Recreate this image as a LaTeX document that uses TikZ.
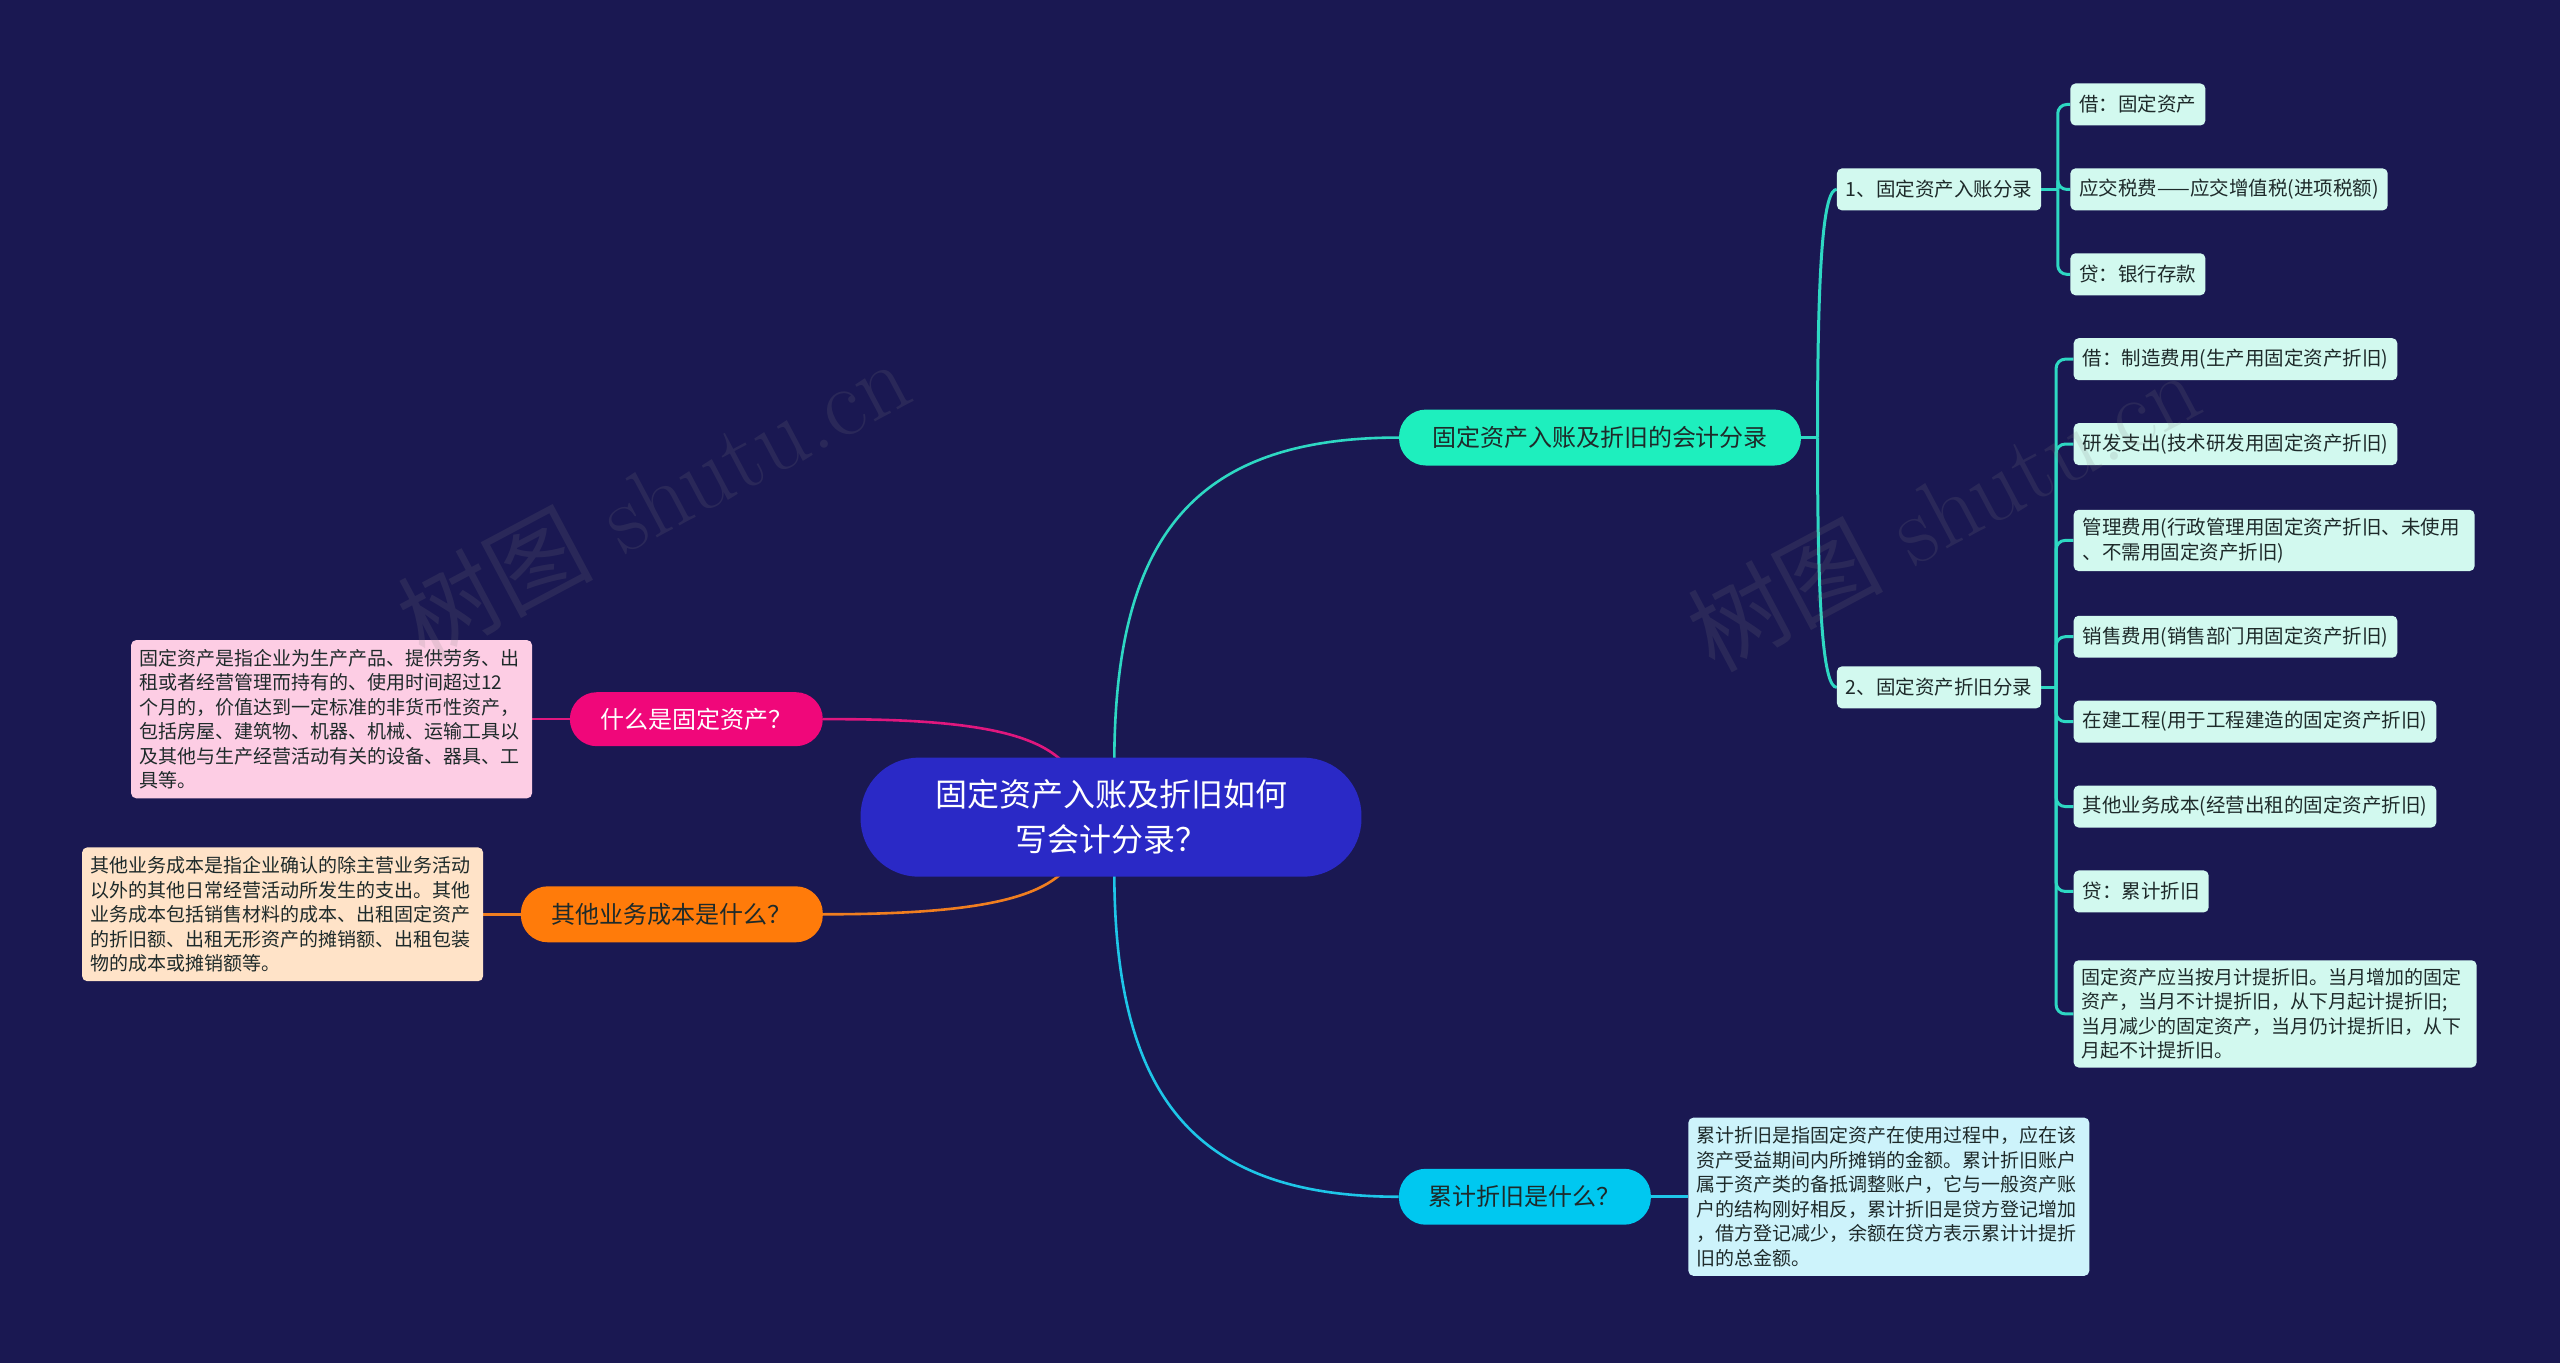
\documentclass[tikz,border=0pt]{standalone}
\usepackage{fontspec}
\newfontfamily\cjk{Noto Sans CJK SC}
\usetikzlibrary{backgrounds,calc}

\definecolor{bgnavy}{HTML}{1A1852}
\definecolor{rootblue}{HTML}{2A29C6}
\definecolor{mint}{HTML}{1EEFBE}
\definecolor{mintline}{HTML}{2ED8C3}
\definecolor{mintleaf}{HTML}{D2F9EF}
\definecolor{cyanpill}{HTML}{00C8F0}
\definecolor{cyanline}{HTML}{1EC6E8}
\definecolor{cyanleaf}{HTML}{CDF3FB}
\definecolor{pinkpill}{HTML}{F0077A}
\definecolor{pinkline}{HTML}{E0177E}
\definecolor{pinkleaf}{HTML}{FDCDE4}
\definecolor{orangepill}{HTML}{FF7B0A}
\definecolor{orangeline}{HTML}{F07E20}
\definecolor{orangeleaf}{HTML}{FFE3C8}
\definecolor{inkdark}{HTML}{1E2A2A}

\tikzset{
  pill/.style={rectangle, rounded corners=27pt, minimum height=56pt, inner xsep=4pt, font=\cjk\fontsize{24}{28}\selectfont},
  leafbox/.style={rectangle, rounded corners=5pt, fill=mintleaf, text=inkdark, minimum height=42pt, inner xsep=9pt, inner ysep=8pt, align=left, font=\cjk\fontsize{19.5}{25}\selectfont},
  descbox/.style={rectangle, rounded corners=5pt, text=inkdark, inner xsep=8pt, inner ysep=9pt, text width=385pt, align=left, font=\cjk\fontsize{19}{24.5}\selectfont},
  link/.style={line width=2.6pt},
  sublink/.style={line width=3pt, mintline, rounded corners=9pt},
  watermark/.style={rotate=28, text=gray, text opacity=0.16, font=\fontsize{98}{98}\selectfont},
}

\begin{document}
\begin{tikzpicture}[x=1.633pt, y=-1.633pt]
  \begin{scope}[on background layer]
    \fill[bgnavy] (0,0) rectangle (1568,835);
  \end{scope}
  \useasboundingbox (0,0) rectangle (1568,835);

  % Nodes
  \node (root) at (680.5,500.5) [rectangle, rounded corners=58pt, fill=rootblue, text=white, minimum width=501pt, minimum height=119pt, align=center, font=\cjk\fontsize{32}{45}\selectfont] {固定资产入账及折旧如何\\写会计分录？};
  \node (entrybr) at (980,268) [pill, fill=mint, text=inkdark, minimum width=402pt] {固定资产入账及折旧的会计分录};
  \node (deprbr) at (934,733) [pill, fill=cyanpill, text=inkdark, minimum width=252pt] {累计折旧是什么？};
  \node (fabr) at (426.5,440.5) [pill, fill=pinkpill, text=white, minimum width=253pt, minimum height=54pt] {什么是固定资产？};
  \node (costbr) at (411.5,560) [pill, fill=orangepill, text=inkdark, minimum width=302pt] {其他业务成本是什么？};

  \node (fadesc) at (326,440.5) [descbox, anchor=east, fill=pinkleaf] {固定资产是指企业为生产产品、提供劳务、出\\租或者经营管理而持有的、使用时间超过12\\个月的，价值达到一定标准的非货币性资产，\\包括房屋、建筑物、机器、机械、运输工具以\\及其他与生产经营活动有关的设备、器具、工\\具等。};
  \node (costdesc) at (296,560) [descbox, anchor=east, fill=orangeleaf] {其他业务成本是指企业确认的除主营业务活动\\以外的其他日常经营活动所发生的支出。其他\\业务成本包括销售材料的成本、出租固定资产\\的折旧额、出租无形资产的摊销额、出租包装\\物的成本或摊销额等。};
  \node (deprdesc) at (1034,733) [descbox, anchor=west, fill=cyanleaf] {累计折旧是指固定资产在使用过程中，应在该\\资产受益期间内所摊销的金额。累计折旧账户\\属于资产类的备抵调整账户，它与一般资产账\\户的结构刚好相反，累计折旧是贷方登记增加\\，借方登记减少，余额在贷方表示累计计提折\\旧的总金额。};

  \node (entrysub) at (1125,116) [leafbox, anchor=west] {1、固定资产入账分录};
  \node (deprsub) at (1125,421) [leafbox, anchor=west] {2、固定资产折旧分录};

  \node (debitfa) at (1268,64) [leafbox, anchor=west] {借：固定资产};
  \node (vattax) at (1268,116) [leafbox, anchor=west] {应交税费——应交增值税(进项税额)};
  \node (creditbank) at (1268,168) [leafbox, anchor=west] {贷：银行存款};

  \node (mfgcost) at (1270,220) [leafbox, anchor=west] {借：制造费用(生产用固定资产折旧)};
  \node (rdcost) at (1270,272) [leafbox, anchor=west] {研发支出(技术研发用固定资产折旧)};
  \node (admcost) at (1270,331) [leafbox, anchor=west, text width=383pt] {管理费用(行政管理用固定资产折旧、未使用\\、不需用固定资产折旧)};
  \node (salescost) at (1270,390) [leafbox, anchor=west] {销售费用(销售部门用固定资产折旧)};
  \node (cipcost) at (1270,442) [leafbox, anchor=west] {在建工程(用于工程建造的固定资产折旧)};
  \node (othercost) at (1270,494) [leafbox, anchor=west] {其他业务成本(经营出租的固定资产折旧)};
  \node (creditacc) at (1270,546) [leafbox, anchor=west] {贷：累计折旧};
  \node (deprrule) at (1270,621) [leafbox, anchor=west, inner xsep=8pt, text width=387pt, font=\cjk\fontsize{19}{24.5}\selectfont] {固定资产应当按月计提折旧。当月增加的固定\\资产，当月不计提折旧，从下月起计提折旧;\\当月减少的固定资产，当月仍计提折旧，从下\\月起不计提折旧。};

  % Edges
  \begin{scope}[on background layer]
    \draw[link, mintline] ($(root.north)+(2,6)$) .. controls (682,330) and (730,268) .. (entrybr.west);
    \draw[link, cyanline] ($(root.south)+(2,-6)$) .. controls (682,670) and (730,733) .. (deprbr.west);
    \draw[link, pinkline] (fabr.east) .. controls (600,440) and (640,450) .. ($(root.north)+(-25,8)$);
    \draw[link, orangeline] (costbr.east) .. controls (600,560) and (640,550) .. ($(root.south)+(-25,-8)$);
    \draw[link, pinkline] (fabr.west) -- (fadesc.east);
    \draw[link, orangeline] (costbr.west) -- (costdesc.east);
    \draw[link, cyanline] (deprbr.east) -- (deprdesc.west);

    \coordinate (entryfork) at ($(entrybr.east)+(10,0)$);
    \draw[sublink] (entrybr.east) -- (entryfork);
    \draw[sublink] (entryfork) .. controls ($(entryfork)+(0,-110)$) and ($(entrysub.west)+(-8,0)$) .. (entrysub.west);
    \draw[sublink] (entryfork) .. controls ($(entryfork)+(0,110)$) and ($(deprsub.west)+(-8,0)$) .. (deprsub.west);

    \coordinate (entrysubfork) at ($(entrysub.east)+(10,0)$);
    \draw[sublink] (entrysub.east) -- (entrysubfork);
    \foreach \leaf in {debitfa,vattax,creditbank}
      \draw[sublink] (entrysubfork) |- (\leaf.west);

    \coordinate (deprsubfork) at ($(deprsub.east)+(9,0)$);
    \draw[sublink] (deprsub.east) -- (deprsubfork);
    \foreach \leaf in {mfgcost,rdcost,admcost,salescost,cipcost,othercost,creditacc,deprrule}
      \draw[sublink] (deprsubfork) |- (\leaf.west);
  \end{scope}

  % Watermark
  \node (markleft) at (400,305) [watermark] {{\cjk 树图} shutu.cn};
  \node (markright) at (1190,312) [watermark] {{\cjk 树图} shutu.cn};
\end{tikzpicture}
\end{document}
